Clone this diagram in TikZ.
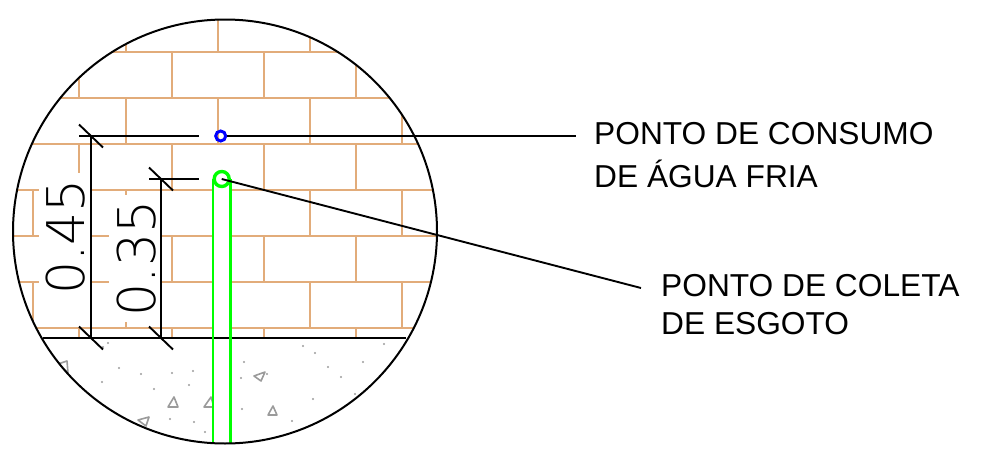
\documentclass[tikz,border=0pt]{standalone}
\usepackage{fontspec}
\setmainfont{Liberation Sans}
\newfontfamily\cadfont{DejaVu Sans ExtraLight}
\definecolor{brick}{RGB}{226,172,122}
\definecolor{fillgray}{RGB}{155,155,155}
\definecolor{pipegreen}{RGB}{0,255,0}
\tikzset{
 x=1pt,y=-1pt,
 rim/.style={draw=black,line width=2pt},
 dimline/.style={draw=black,line width=1.9pt},
 brickline/.style={draw=brick,line width=1.9pt},
 aggr/.style={draw=fillgray,line width=1.6pt,line join=round},
 speck/.style={fill=fillgray,draw=none},
 label/.style={align=left,anchor=north west,inner sep=0pt},
 dimtext/.style={font=\cadfont\fontsize{52}{52}\selectfont,rotate=90,inner sep=0pt},
}
\begin{document}
\begin{tikzpicture}
\useasboundingbox (0,0) rectangle (986,450);
\begin{scope}
\clip (225,231.5) circle (212);
\foreach \y in {52,98,144}{\draw[brickline] (0,\y) -- (450,\y);}
\foreach \y in {190,236,282}{\draw[brickline] (0,\y) -- (39,\y);}
\draw[brickline] (92,190) -- (212,190);
\foreach \y in {236,282}{\draw[brickline] (92,\y) -- (109,\y);\draw[brickline] (162,\y) -- (212,\y);}
\foreach \y in {190,236,282,328}{\draw[brickline] (231,\y) -- (450,\y);}
\draw[brickline] (0,328) -- (212,328);
\foreach \x in {126,218,310}{\draw[brickline] (\x,20) -- (\x,52);}
\foreach \x in {79,172,264,356}{\draw[brickline] (\x,52) -- (\x,98);}
\foreach \x in {126,218,310,402}{\draw[brickline] (\x,98) -- (\x,144);}
\draw[brickline] (79,144) -- (79,173);
\foreach \x in {172,264,356}{\draw[brickline] (\x,144) -- (\x,190);}
\draw[brickline] (126,190) -- (126,195);
\foreach \x in {33,310,402}{\draw[brickline] (\x,190) -- (\x,236);\draw[brickline] (\x,282) -- (\x,328);}
\foreach \x in {172,264,356}{\draw[brickline] (\x,236) -- (\x,282);}
\draw[brickline] (126,322) -- (126,328);
\foreach \x in {79,172,264,356}{\draw[brickline] (\x,328) -- (\x,338);}
% aggregate
\draw[aggr] (67,361) -- (58,364) -- (68,373) -- cycle;
\draw[aggr] (174,397) -- (168,407) -- (178,407) -- cycle;
\begin{scope}
\clip (190,390) rectangle (212,412);
\draw[aggr] (211,397) -- (204,407) -- (214,407) -- cycle;
\end{scope}
\draw[aggr] (149,417) -- (138,420) -- (146,426) -- cycle;
\draw[aggr] (265,372) -- (254,376) -- (261,381) -- cycle;
\draw[aggr] (273,406) -- (268,415) -- (277,415) -- cycle;
\foreach \x/\y in {108/343,103/347,119/368,141/374,172/373,193/371,189/385,154/389,102/382,170/419,194/422,205/432,303/346,315/353,384/344,363/362,328/367,341/377,244/362,267/374,241/378,313/399,355/394,242/409,292/421}{
 \fill[speck] (\x,\y) circle (1.1);}
\end{scope}
% dimensions
\coordinate (d1t) at (91,136);
\coordinate (d1b) at (91,338);
\coordinate (d2t) at (161,179);
\coordinate (d2b) at (161,338);
\coordinate (e1) at (199,136);
\coordinate (e2) at (199,179);
\coordinate (e1s) at (79,136);
\coordinate (e2s) at (149,179);
\draw[dimline] (d1t) -- (d1b);
\draw[dimline] (d2t) -- (d2b);
\draw[dimline] (e1s) -- (e1);
\draw[dimline] (e2s) -- (e2);
\foreach \c in {d1t,d1b,d2t,d2b}{\draw[dimline] ([xshift=-12pt,yshift=11.5pt]\c) -- ([xshift=12pt,yshift=-11.5pt]\c);}
\node[dimtext] (t45) at (66,237) {0.45};
\node[dimtext] (t35) at (136.5,258.5) {0.35};
% ground
\coordinate (g1) at (43,338);
\coordinate (g2) at (406,338);
\draw[dimline] (g1) -- (g2);
% pipe
\coordinate (p1a) at (212.7,179);
\coordinate (p1b) at (212.7,443);
\coordinate (p2a) at (230.5,179);
\coordinate (p2b) at (230.5,443);
\draw[pipegreen,line width=2.2pt] (p1a) -- (p1b);
\draw[pipegreen,line width=2.2pt] (p2a) -- (p2b);
% rim
\draw[rim] (225,231.5) circle (212);
% points
\node[draw=blue,circle,line width=3pt,minimum size=10pt,inner sep=0pt] (pa) at (220.7,136) {};
\node[draw=pipegreen,circle,line width=3.4pt,minimum size=15pt,inner sep=0pt] (pb) at (221.7,179) {};
\coordinate (la) at (576,136);
\coordinate (lb) at (641,288);
\draw[dimline] (pa.east) -- (la);
\draw[dimline] (pb.center) -- (lb);
\node[label,font=\fontsize{31.7}{43}\selectfont] (ta) at (594,122) {PONTO DE CONSUMO\\DE ÁGUA FRIA};
\node[label,font=\fontsize{31.7}{38.5}\selectfont] (tb) at (661,274) {PONTO DE COLETA\\DE ESGOTO};
\end{tikzpicture}
\end{document}
